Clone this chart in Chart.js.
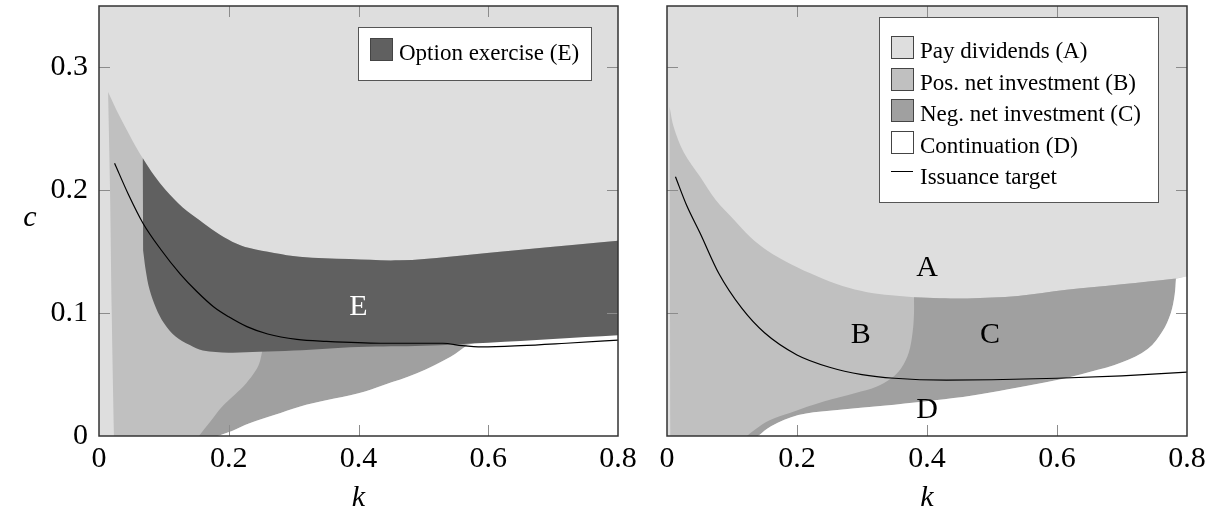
<!DOCTYPE html>
<html>
<head>
<meta charset="utf-8">
<script src="https://cdn.jsdelivr.net/npm/chart.js@4.4.1/dist/chart.umd.min.js"></script>
<style>
  html, body { margin: 0; padding: 0; background: #fff; }
  body { width: 1215px; height: 525px; position: relative; overflow: hidden; }
  canvas { position: absolute; top: 0; }
  #left { left: 0; }
  #right { left: 643px; }
</style>
</head>
<body>
<canvas id="left" width="643" height="525"></canvas>
<canvas id="right" width="572" height="525"></canvas>
<script>
// axes
const kTicks = [0, 0.2, 0.4, 0.6, 0.8];
const cTicks = [0, 0.1, 0.2, 0.3];
const kMax = 0.8;
const cMax = 0.35;

// region boundaries, [k, c] pairs
// left panel
const bEdgeL = [[0.023, 0], [0.0196, 0.1], [0.017, 0.2], [0.014, 0.28]];
const abCurveL = [[0.031, 0.261], [0.051, 0.241]];
const eTopL = [[0.0675, 0.226], [0.085, 0.212], [0.103, 0.2], [0.129, 0.186], [0.154, 0.176], [0.18, 0.166],
  [0.206, 0.158], [0.232, 0.153], [0.27, 0.149], [0.309, 0.146], [0.386, 0.144], [0.463, 0.143],
  [0.54, 0.146], [0.618, 0.15], [0.7, 0.154], [0.8, 0.159]];
const eBottomL = [[0.8, 0.082], [0.7, 0.079], [0.6, 0.076], [0.5, 0.0735], [0.4, 0.0725], [0.3, 0.0695],
  [0.247, 0.0685], [0.2, 0.0678], [0.16, 0.0695], [0.14, 0.074], [0.118, 0.081], [0.1, 0.092],
  [0.088, 0.104], [0.078, 0.119], [0.072, 0.135], [0.068, 0.151]];
const bcCurveL = [[0.154, 0], [0.172, 0.012], [0.19, 0.024], [0.21, 0.034], [0.227, 0.043], [0.24, 0.052],
  [0.247, 0.059], [0.252, 0.07]];
const cTopL = [[0.4, 0.075], [0.55, 0.077]];
const cdCurveL = [[0.183, 0], [0.205, 0.004], [0.232, 0.0103], [0.27, 0.017], [0.309, 0.0238], [0.35, 0.029],
  [0.4, 0.0347], [0.439, 0.0415], [0.49, 0.051], [0.542, 0.0645], [0.568, 0.074]];
const dTopL = [[0.6, 0.079], [0.8, 0.085]];
const issueL = [[0.024, 0.222], [0.045, 0.197], [0.068, 0.173], [0.095, 0.152], [0.125, 0.132], [0.15, 0.118],
  [0.177, 0.105], [0.2, 0.097], [0.228, 0.089], [0.26, 0.083], [0.305, 0.0786], [0.35, 0.077],
  [0.434, 0.0755], [0.53, 0.0755], [0.56, 0.0735], [0.59, 0.0725], [0.65, 0.0735], [0.72, 0.0755], [0.8, 0.078]];

// right panel
const bEdgeR = [[0.005, 0], [0.0045, 0.15]];
const aCurveR = [[0.004, 0.268], [0.0103, 0.2515], [0.0257, 0.231], [0.051, 0.211], [0.075, 0.192], [0.103, 0.176],
  [0.128, 0.162], [0.154, 0.151], [0.19, 0.14], [0.231, 0.13], [0.27, 0.122], [0.308, 0.117],
  [0.345, 0.1145], [0.38, 0.113], [0.42, 0.1122], [0.462, 0.112], [0.54, 0.114], [0.615, 0.119],
  [0.7, 0.1235], [0.78, 0.128], [0.8, 0.13]];
const bcCurveR = [[0.123, 0], [0.135, 0.005], [0.157, 0.0126], [0.19, 0.019], [0.241, 0.028], [0.29, 0.035],
  [0.322, 0.04], [0.345, 0.047], [0.36, 0.055], [0.372, 0.068], [0.378, 0.085], [0.38, 0.1], [0.38, 0.113]];
const cdCurveR = [[0.14, 0], [0.16, 0.008], [0.202, 0.017], [0.25, 0.0205], [0.298, 0.023], [0.35, 0.0255],
  [0.412, 0.029], [0.47, 0.033], [0.525, 0.038], [0.6, 0.0455], [0.65, 0.052], [0.7, 0.06], [0.74, 0.071],
  [0.762, 0.085], [0.775, 0.1], [0.781, 0.115], [0.783, 0.128]];
const issueR = [[0.013, 0.211], [0.03, 0.188], [0.051, 0.165], [0.08, 0.132], [0.115, 0.104], [0.15, 0.084],
  [0.2, 0.066], [0.25, 0.056], [0.3, 0.05], [0.35, 0.047], [0.43, 0.0455], [0.5, 0.0458], [0.6, 0.047],
  [0.7, 0.049], [0.8, 0.052]];

// text
const regionLabelsL = [['E', 0.4, 0.105]];
const regionLabelsR = [['A', 0.4, 0.137], ['B', 0.298, 0.082], ['C', 0.497, 0.082], ['D', 0.4, 0.021]];
const legendTextL = ['Option exercise (E)'];
const legendTextR = ['Pay dividends (A)', 'Pos. net investment (B)', 'Neg. net investment (C)', 'Continuation (D)', 'Issuance target'];

const colA = '#dedede', colB = '#c0c0c0', colC = '#a0a0a0', colD = '#ffffff', colE = '#606060';
const SERIF = '"Liberation Serif", "DejaVu Serif", serif';

const toXY = pts => pts.map(([x, y]) => ({ x, y }));

// join boundary pieces into one outline; repeating each piece's ends keeps the joints sharp
function outline(...pieces) {
  const out = [];
  pieces.forEach(p => { out.push(p[0], ...p, p[p.length - 1]); });
  return out;
}

function region(points, color, order) {
  return {
    type: 'line', data: toXY(points), backgroundColor: color, borderWidth: 0,
    pointRadius: 0, fill: 'shape', tension: 0.35, order
  };
}

function curve(points) {
  return {
    type: 'line', data: toXY(points), borderColor: '#000', borderWidth: 1.2,
    pointRadius: 0, fill: false, cubicInterpolationMode: 'monotone', order: 0
  };
}

// frame, inward ticks, region letters and legend
const framePlugin = {
  id: 'frame',
  afterDatasetsDraw(chart, args, opts) {
    const { ctx, chartArea: a, scales: { x, y } } = chart;
    ctx.save();

    ctx.strokeStyle = '#8c8c8c';
    ctx.lineWidth = 1;
    ctx.beginPath();
    kTicks.slice(1, -1).forEach(v => {
      const px = Math.round(x.getPixelForValue(v)) + 0.5;
      ctx.moveTo(px, a.bottom); ctx.lineTo(px, a.bottom - 11);
      ctx.moveTo(px, a.top); ctx.lineTo(px, a.top + 11);
    });
    cTicks.slice(1).forEach(v => {
      const py = Math.round(y.getPixelForValue(v)) + 0.5;
      ctx.moveTo(a.left, py); ctx.lineTo(a.left + 11, py);
      ctx.moveTo(a.right, py); ctx.lineTo(a.right - 11, py);
    });
    ctx.stroke();

    ctx.strokeStyle = '#333';
    ctx.lineWidth = 1.5;
    ctx.strokeRect(a.left, a.top, a.right - a.left, a.bottom - a.top);

    ctx.font = '30px ' + SERIF;
    ctx.textAlign = 'center';
    ctx.textBaseline = 'middle';
    opts.labels.forEach(([t, k, c]) => {
      ctx.fillStyle = t === 'E' ? '#fff' : '#000';
      ctx.fillText(t, x.getPixelForValue(k), y.getPixelForValue(c));
    });

    if (opts.yTitle) {
      ctx.fillStyle = '#000';
      ctx.font = 'italic 30px ' + SERIF;
      ctx.fillText(opts.yTitle, a.left - 69, (a.top + a.bottom) / 2 - 3);
    }

    const L = opts.legend;
    const bx = Math.round(a.right - L.right - L.width);
    const by = Math.round(a.top + L.top);
    ctx.fillStyle = '#fff';
    ctx.fillRect(bx, by, L.width, L.height);
    ctx.strokeStyle = '#555';
    ctx.lineWidth = 1;
    ctx.strokeRect(bx + 0.5, by + 0.5, L.width, L.height);
    ctx.font = '23px ' + SERIF;
    ctx.textAlign = 'left';
    ctx.textBaseline = 'alphabetic';
    L.texts.forEach((t, i) => {
      const base = Math.round(by + L.first + i * L.rowH);
      const sx = bx + 12;
      const col = L.colors[i];
      if (col === null) {
        ctx.strokeStyle = '#000';
        ctx.beginPath();
        ctx.moveTo(sx, base - 12.5); ctx.lineTo(sx + 22, base - 12.5);
        ctx.stroke();
      } else {
        ctx.fillStyle = col;
        ctx.fillRect(sx, base - 22, 22, 22);
        ctx.strokeStyle = '#444';
        ctx.strokeRect(sx + 0.5, base - 21.5, 22, 22);
      }
      ctx.fillStyle = '#000';
      ctx.fillText(t, bx + 41, base);
    });
    ctx.restore();
  }
};

function makeChart(id, datasets, cfg) {
  return new Chart(document.getElementById(id), {
    type: 'line',
    data: { datasets },
    options: {
      responsive: false,
      animation: false,
      events: [],
      layout: { padding: { top: 6, right: cfg.padRight, left: 0, bottom: 0 } },
      plugins: { legend: { display: false }, tooltip: { enabled: false }, frame: cfg },
      scales: {
        x: {
          type: 'linear', min: 0, max: kMax,
          afterBuildTicks: s => { s.ticks = kTicks.map(v => ({ value: v })); },
          afterFit: s => { s.height = 89; s.paddingLeft = 0; s.paddingRight = 0; },
          grid: { display: false, drawTicks: false },
          border: { display: false },
          ticks: { color: '#000', padding: 5, maxRotation: 0, font: { family: SERIF, size: 30 },
            callback: v => String(+v.toFixed(2)) },
          title: { display: true, text: 'k', color: '#000', padding: { top: 0, bottom: 9 },
            font: { family: SERIF, size: 30, style: 'italic' } }
        },
        y: {
          type: 'linear', min: 0, max: cMax,
          afterBuildTicks: s => { s.ticks = cTicks.map(v => ({ value: v })); },
          afterFit: s => { s.width = cfg.yWidth; s.paddingTop = 0; s.paddingBottom = 0; },
          grid: { display: false, drawTicks: false },
          border: { display: false },
          ticks: { display: cfg.yLabels, color: '#000', padding: 11, font: { family: SERIF, size: 30 },
            callback: v => String(+v.toFixed(2)) }
        }
      }
    },
    plugins: [framePlugin]
  });
}

const bgPoly = [[0, 0], [0, cMax], [kMax, cMax], [kMax, 0]];

// left panel
const polyBL = outline(bEdgeL, [bEdgeL[bEdgeL.length - 1], ...abCurveL, ...eTopL], [[kMax, 0]]);
const polyCL = outline(bcCurveL, cTopL, cdCurveL.slice().reverse());
const polyDL = outline(cdCurveL, dTopL, [[kMax, 0]]);
const polyEL = outline(eTopL, eBottomL);

makeChart('left', [
  region(bgPoly, colA, 10),
  region(polyBL, colB, 9),
  region(polyCL, colC, 8),
  region(polyDL, colD, 7),
  region(polyEL, colE, 6),
  curve(issueL)
], {
  padRight: 25, yWidth: 99, yLabels: true, yTitle: 'c', labels: regionLabelsL,
  legend: { right: 27, top: 21, width: 233, height: 53, first: 33, rowH: 31.5,
    texts: legendTextL, colors: [colE] }
});

// right panel
const kB = bcCurveR[bcCurveR.length - 1][0];
const kC = cdCurveR[cdCurveR.length - 1][0];
const polyBR = outline(bEdgeR, aCurveR, [[kMax, 0]]);
const polyCR = outline(bcCurveR, aCurveR.filter(p => p[0] > kB && p[0] < kC), cdCurveR.slice().reverse());
const polyDR = outline(cdCurveR, [aCurveR[aCurveR.length - 1]], [[kMax, 0]]);

makeChart('right', [
  region(bgPoly, colA, 10),
  region(polyBR, colB, 9),
  region(polyCR, colC, 8),
  region(polyDR, colD, 7),
  curve(issueR)
], {
  padRight: 28, yWidth: 24, yLabels: false, yTitle: null, labels: regionLabelsR,
  legend: { right: 29, top: 11, width: 279, height: 185, first: 41, rowH: 31.5,
    texts: legendTextR, colors: [colA, colB, colC, colD, null] }
});
</script>
</body>
</html>
